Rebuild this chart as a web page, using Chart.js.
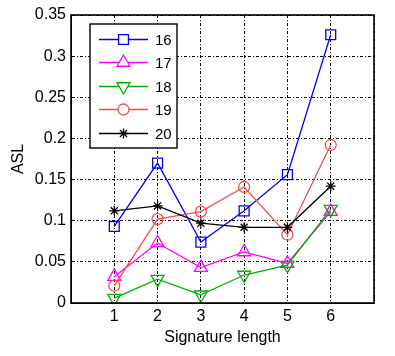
<!DOCTYPE html>
<html>
<head>
<meta charset="utf-8">
<script src="https://cdn.jsdelivr.net/npm/chart.js@4/dist/chart.umd.min.js"></script>
<style>
html,body{margin:0;padding:0;background:#fff;}
canvas{display:block;}
</style>
</head>
<body>
<canvas id="c" width="395" height="356"></canvas>
<script>
// Data
const signatureLengths = [1, 2, 3, 4, 5, 6];
const seriesNames = ['16', '17', '18', '19', '20'];
const asl16 = [0.093, 0.170, 0.074, 0.112, 0.156, 0.326];
const asl17 = [0.032, 0.073, 0.043, 0.062, 0.048, 0.111];
const asl18 = [0.006, 0.029, 0.010, 0.034, 0.046, 0.114];
const asl19 = [0.021, 0.102, 0.111, 0.141, 0.083, 0.192];
const asl20 = [0.112, 0.118, 0.097, 0.092, 0.092, 0.142];
const yTicks = [0, 0.05, 0.1, 0.15, 0.2, 0.25, 0.3, 0.35];

const seriesValues = [asl16, asl17, asl18, asl19, asl20];
const colors = ['#0000ff', '#ff00ff', '#00b000', '#f24b4b', '#000000'];
const styles = [
  {pointStyle: 'rect', radius: 7, rotation: 0},
  {pointStyle: 'triangle', radius: 7.5, rotation: 0},
  {pointStyle: 'triangle', radius: 7.5, rotation: 180},
  {pointStyle: 'circle', radius: 5.5, rotation: 0},
  {pointStyle: 'star', radius: 5, rotation: 0}
];

const datasets = seriesValues.map((vals, i) => ({
  label: seriesNames[i],
  data: vals.map((v, j) => ({x: signatureLengths[j], y: v})),
  borderColor: colors[i],
  backgroundColor: 'rgba(0,0,0,0)',
  borderWidth: 1.3,
  pointStyle: styles[i].pointStyle,
  pointRadius: styles[i].radius,
  pointRotation: styles[i].rotation,
  pointBorderWidth: 1.3,
  pointBorderColor: colors[i],
  pointBackgroundColor: 'rgba(0,0,0,0)',
  tension: 0,
  order: seriesValues.length - i
}));

const FONT = 'Liberation Sans, Arial, sans-serif';
const DASH = [3, 2, 1, 2];

const frameAndLegend = {
  id: 'frameAndLegend',
  afterDatasetsDraw(chart) {
    const ctx = chart.ctx;
    const a = chart.chartArea;
    ctx.save();
    ctx.strokeStyle = '#000';
    ctx.lineWidth = 1.6;
    ctx.setLineDash([]);
    ctx.strokeRect(a.left, a.top, a.right - a.left, a.bottom - a.top);
    // legend box
    const bx = 90, by = 24, bw = 87, bh = 124;
    ctx.fillStyle = '#fff';
    ctx.fillRect(bx, by, bw, bh);
    ctx.lineWidth = 1.4;
    ctx.strokeRect(bx, by, bw, bh);
    const rowY = [39.5, 62.5, 86.5, 109.5, 133.5];
    ctx.font = '15px ' + FONT;
    ctx.textBaseline = 'middle';
    ctx.textAlign = 'left';
    chart.data.datasets.forEach((ds, i) => {
      const y = rowY[i];
      ctx.strokeStyle = ds.borderColor;
      ctx.lineWidth = 1.3;
      ctx.beginPath();
      ctx.moveTo(99, y);
      ctx.lineTo(148, y);
      ctx.stroke();
      ctx.fillStyle = '#fff';
      Chart.helpers.drawPoint(ctx, {
        pointStyle: ds.pointStyle,
        radius: ds.pointRadius,
        rotation: ds.pointRotation,
        borderWidth: ds.pointBorderWidth
      }, 123.5, y);
      ctx.fillStyle = '#000';
      ctx.fillText(ds.label, 155, y + 1);
    });
    ctx.restore();
  }
};

new Chart(document.getElementById('c'), {
  type: 'line',
  data: {datasets},
  plugins: [frameAndLegend],
  options: {
    responsive: false,
    animation: false,
    events: [],
    layout: {padding: {left: 0, top: 15, right: 21, bottom: 0}},
    plugins: {legend: {display: false}, tooltip: {enabled: false}},
    scales: {
      x: {
        type: 'linear',
        min: 0,
        max: 7,
        afterBuildTicks(scale) {
          scale.ticks = [0, 1, 2, 3, 4, 5, 6, 7].map(v => ({value: v}));
        },
        afterFit(scale) { scale.height = 53; },
        ticks: {
          color: '#000',
          font: {family: FONT, size: 16},
          padding: 4,
          maxRotation: 0,
          autoSkip: false,
          callback: v => (v >= 1 && v <= 6) ? String(v) : ''
        },
        grid: {
          color: '#000',
          lineWidth: 1,
          drawTicks: false,
          borderDash: DASH
        },
        border: {display: true, color: '#000', width: 1, dash: DASH},
        title: {
          display: true,
          text: 'Signature length',
          color: '#000',
          font: {family: FONT, size: 16},
          padding: {top: 9, bottom: 9}
        }
      },
      y: {
        min: 0,
        max: 0.35,
        afterBuildTicks(scale) {
          scale.ticks = yTicks.map(v => ({value: v}));
        },
        afterFit(scale) { scale.width = 71; },
        ticks: {
          color: '#000',
          font: {family: FONT, size: 16},
          padding: 5,
          callback: v => String(Math.round(v * 100) / 100)
        },
        grid: {
          color: '#000',
          lineWidth: 1,
          drawTicks: false,
          borderDash: DASH
        },
        border: {display: true, color: '#000', width: 1, dash: DASH},
        title: {
          display: true,
          text: 'ASL',
          color: '#000',
          font: {family: FONT, size: 16},
          padding: {top: 9, bottom: 9}
        }
      }
    }
  }
});
</script>
</body>
</html>
